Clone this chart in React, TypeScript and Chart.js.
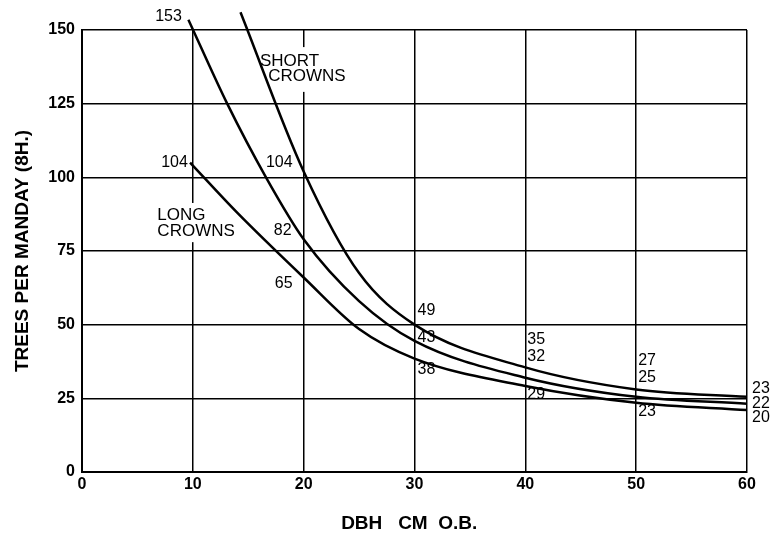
import React, { useEffect, useRef } from 'react';
import { Chart, registerables } from 'chart.js';

Chart.register(...registerables);

// Curves (DBH cm o.b. -> trees per manday)
const shortDbh = [14.3, 20, 25, 30, 40, 50, 60];
const shortTrees = [156, 102, 67.5, 50, 35.5, 28, 25.5];

const middleDbh = [9.6, 13.1, 16.6, 20, 25, 30, 40, 50, 60];
const middleTrees = [153.5, 125, 100, 79, 58, 44.5, 32, 25.5, 23.2];

const longDbh = [9.75, 14, 20, 25, 30, 40, 50, 60];
const longTrees = [105, 88, 66, 48.5, 38.5, 29.2, 23.5, 21];

// Printed value labels along the curves
const noteDbh = [10, 20, 30, 40, 50, 60];
const shortNotes = ['', '104', '49', '35', '27', '23'];
const middleNotes = ['153', '82', '43', '32', '25', '22'];
const longNotes = ['104', '65', '38', '29', '23', '20'];

// Axis ticks
const xTicks = [0, 10, 20, 30, 40, 50, 60];
const yTicks = [0, 25, 50, 75, 100, 125, 150];

const xTitle = 'DBH   CM  O.B.  ';
const yTitle = 'TREES PER MANDAY (8H.)';

const FONT = '"Liberation Sans", Arial, Helvetica, sans-serif';

// label placement (pixel nudges from the anchor value), styling only
const shortNudge = [[0, 0], [-11, -2.5], [3, -17], [2, -29], [2, -32], [5, -16]];
const middleNudge = [[-11, -5], [-12, 0], [3, -8], [2, -21], [2, -21], [5, -4]];
const longNudge = [[-5, -2.5], [-11, 3], [3, 10], [2, 8], [2, 7], [5, 5]];

const crownText = [
  { text: 'SHORT', dbh: 16.05, trees: 139.5 },
  { text: 'CROWNS', dbh: 16.8, trees: 134.4 },
  { text: 'LONG', dbh: 6.8, trees: 87.0 },
  { text: 'CROWNS', dbh: 6.8, trees: 81.8 },
];

const gridGaps = [
  { dbh: 10, from: 91.3, to: 78 },
  { dbh: 20, from: 144.2, to: 129 },
];

const toPoints = (xs: number[], ys: number[]) => xs.map((x, i) => ({ x, y: ys[i] }));

const notesPlugin = {
  id: 'notes',
  beforeDatasetsDraw(chart: any) {
    const { ctx, scales } = chart;
    const x = scales.x;
    const y = scales.y;
    ctx.save();
    ctx.fillStyle = '#fff';
    gridGaps.forEach((g) => {
      const px = x.getPixelForValue(g.dbh);
      const y1 = y.getPixelForValue(g.from);
      const y2 = y.getPixelForValue(g.to);
      ctx.fillRect(px - 3, y1, 6, y2 - y1);
    });
    ctx.restore();
  },
  afterDatasetsDraw(chart: any) {
    const { ctx, scales } = chart;
    const x = scales.x;
    const y = scales.y;
    ctx.save();
    ctx.fillStyle = '#000';
    ctx.textBaseline = 'middle';
    ctx.font = `16px ${FONT}`;
    const groups: [string[], number[][]][] = [
      [shortNotes, shortNudge],
      [middleNotes, middleNudge],
      [longNotes, longNudge],
    ];
    groups.forEach(([notes, nudge]) => {
      notes.forEach((t, i) => {
        if (!t) return;
        const d = noteDbh[i];
        const px = x.getPixelForValue(d) + nudge[i][0];
        const py = y.getPixelForValue(Number(t)) + nudge[i][1];
        ctx.textAlign = d <= 20 ? 'right' : 'left';
        ctx.fillText(t, px, py);
      });
    });
    ctx.font = `17px ${FONT}`;
    ctx.textAlign = 'left';
    crownText.forEach((c) => {
      ctx.fillText(c.text, x.getPixelForValue(c.dbh), y.getPixelForValue(c.trees));
    });
    ctx.restore();
  },
};

export default function App() {
  const ref = useRef<HTMLCanvasElement>(null);
  useEffect(() => {
    const lineStyle = {
      borderColor: '#000',
      borderWidth: 2.5,
      pointRadius: 0,
      cubicInterpolationMode: 'monotone' as const,
      clip: false as any,
      fill: false,
    };
    const chart = new Chart(ref.current!, {
      type: 'line',
      data: {
        datasets: [
          { label: 'Short crowns', data: toPoints(shortDbh, shortTrees), ...lineStyle },
          { label: 'Medium', data: toPoints(middleDbh, middleTrees), ...lineStyle },
          { label: 'Long crowns', data: toPoints(longDbh, longTrees), ...lineStyle },
        ],
      },
      options: {
        animation: false,
        responsive: true,
        maintainAspectRatio: false,
        layout: { padding: { top: 30, right: 25, left: 0, bottom: 0 } },
        plugins: { legend: { display: false }, tooltip: { enabled: false } },
        scales: {
          x: {
            type: 'linear',
            min: xTicks[0],
            max: xTicks[xTicks.length - 1],
            afterBuildTicks: (s: any) => {
              s.ticks = xTicks.map((v) => ({ value: v }));
            },
            ticks: {
              color: '#000',
              padding: 3,
              font: { family: FONT, size: 16, weight: 'bold' },
            },
            grid: { color: '#000', lineWidth: 1.5, drawTicks: false },
            border: { color: '#000', width: 2 },
            title: {
              display: true,
              text: xTitle,
              color: '#000',
              font: { family: FONT, size: 19, weight: 'bold' },
              padding: { top: 0, bottom: 0 },
            },
            afterFit: (s: any) => {
              s.height = 63;
            },
          },
          y: {
            type: 'linear',
            min: yTicks[0],
            max: yTicks[yTicks.length - 1],
            afterBuildTicks: (s: any) => {
              s.ticks = yTicks.map((v) => ({ value: v }));
            },
            ticks: {
              color: '#000',
              padding: 7,
              font: { family: FONT, size: 16, weight: 'bold' },
            },
            grid: { color: '#000', lineWidth: 1.5, drawTicks: false },
            border: { color: '#000', width: 2 },
            title: {
              display: true,
              text: yTitle,
              color: '#000',
              font: { family: FONT, size: 19, weight: 'bold' },
              padding: { top: 11, bottom: 0 },
            },
            afterFit: (s: any) => {
              s.width = 82;
            },
          },
        },
      } as any,
      plugins: [notesPlugin],
    });
    return () => chart.destroy();
  }, []);
  return (
    <div style={{ position: 'absolute', left: 0, top: 0, width: 772, height: 535, background: '#fff' }}>
      <canvas ref={ref} />
    </div>
  );
}
